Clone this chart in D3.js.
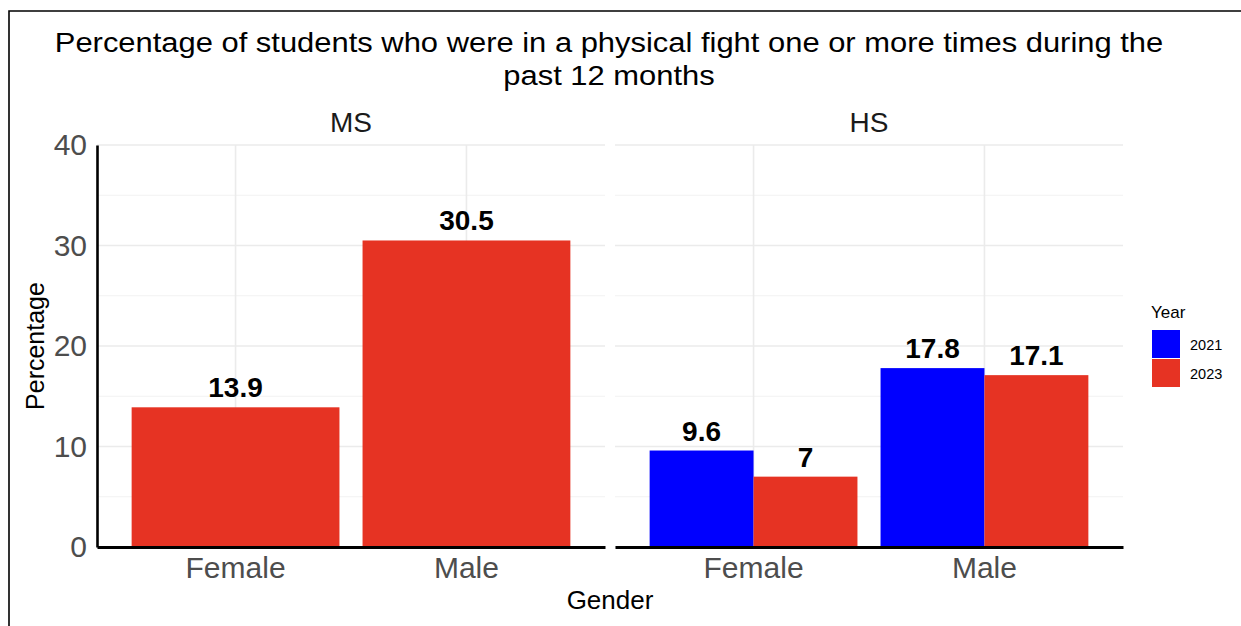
<!DOCTYPE html>
<html>
<head>
<meta charset="utf-8">
<script src="https://cdn.jsdelivr.net/npm/d3@7"></script>
<style>
  html, body { margin: 0; background: #fff; overflow: hidden; }
  svg { display: block; font-family: "Liberation Sans", Arial, Helvetica, sans-serif; }
</style>
</head>
<body>
<svg id="chart" width="1241" height="626"></svg>
<script>
"use strict";
// data
var facetNames = ["MS", "HS"];
var genderNames = ["Female", "Male"];
var yearNames = ["2021", "2023"];
var yearColors = ["#0000ff", "#e63323"];
var ms2023 = [13.9, 30.5];
var hs2021 = [9.6, 17.8];
var hs2023 = [7, 17.1];
var majorTicks = [0, 10, 20, 30, 40];
var minorTicks = [5, 15, 25, 35];

// rows: one per bar
var rows = [];
genderNames.forEach(function (g, i) {
    rows.push({ facet: "MS", gender: g, year: "2023", value: ms2023[i] });
    rows.push({ facet: "HS", gender: g, year: "2021", value: hs2021[i] });
    rows.push({ facet: "HS", gender: g, year: "2023", value: hs2023[i] });
});

var svg = d3.select("#chart");

// outer frame (only left and top edges show)
svg.append("path")
    .attr("d", "M9,640V11H1260")
    .attr("fill", "none")
    .attr("stroke", "#000")
    .attr("stroke-width", 1.6);

var panelTop = 145, panelBottom = 547;
var y = d3.scaleLinear().domain([0, 40]).range([panelBottom, panelTop]);
var color = d3.scaleOrdinal().domain(yearNames).range(yearColors);

var panels = [
    { name: facetNames[0], x0: 97, x1: 605 },
    { name: facetNames[1], x0: 615, x1: 1123 }
];

panels.forEach(function (p, pi) {
    var x = d3.scaleBand().domain(genderNames).range([p.x0, p.x1])
        .paddingInner(0.1).paddingOuter(0.15);
    var g = svg.append("g");

    // minor grid
    g.selectAll(".minor").data(minorTicks).enter().append("line")
        .attr("x1", p.x0).attr("x2", p.x1)
        .attr("y1", function (d) { return y(d); })
        .attr("y2", function (d) { return y(d); })
        .style("stroke", "#f2f2f2").style("stroke-width", 1.2);
    // major grid
    g.selectAll(".major").data(majorTicks).enter().append("line")
        .attr("x1", p.x0).attr("x2", p.x1)
        .attr("y1", function (d) { return y(d); })
        .attr("y2", function (d) { return y(d); })
        .style("stroke", "#ebebeb").style("stroke-width", 1.6);
    g.selectAll(".vgrid").data(genderNames).enter().append("line")
        .attr("x1", function (d) { return x(d) + x.bandwidth() / 2; })
        .attr("x2", function (d) { return x(d) + x.bandwidth() / 2; })
        .attr("y1", panelTop).attr("y2", panelBottom)
        .style("stroke", "#ebebeb").style("stroke-width", 1.6);

    // bars
    var data = rows.filter(function (r) { return r.facet === p.name; });
    genderNames.forEach(function (gn) {
        var sub = data.filter(function (r) { return r.gender === gn; });
        var inner = d3.scaleBand()
            .domain(sub.map(function (r) { return r.year; }))
            .range([x(gn), x(gn) + x.bandwidth()]);
        g.selectAll(null).data(sub).enter().append("rect")
            .attr("x", function (d) { return inner(d.year); })
            .attr("y", function (d) { return y(d.value); })
            .attr("width", inner.bandwidth())
            .attr("height", function (d) { return y(0) - y(d.value); })
            .attr("fill", function (d) { return color(d.year); });
        g.selectAll(null).data(sub).enter().append("text")
            .attr("x", function (d) { return inner(d.year) + inner.bandwidth() / 2; })
            .attr("y", function (d) { return y(d.value) - 10; })
            .attr("text-anchor", "middle")
            .style("font-size", "28px").style("font-weight", "bold")
            .style("fill", "#000")
            .text(function (d) { return d.value; });
    });

    // x axis
    var xAxis = g.append("g")
        .attr("transform", "translate(0," + panelBottom + ")")
        .call(d3.axisBottom(x).tickSize(0).tickSizeOuter(0).tickPadding(10));
    xAxis.select(".domain").style("stroke", "#000").style("stroke-width", 3);
    xAxis.selectAll("text").style("font-size", "30px").style("fill", "#4d4d4d")
        .style("font-family", "Liberation Sans, Arial, sans-serif");

    // strip label
    g.append("text")
        .attr("x", (p.x0 + p.x1) / 2).attr("y", 132)
        .attr("text-anchor", "middle")
        .style("font-size", "28px").style("fill", "#1a1a1a")
        .text(p.name);

    if (pi === 0) {
        var yAxis = g.append("g")
            .attr("transform", "translate(" + p.x0 + ",0)")
            .call(d3.axisLeft(y).tickValues(majorTicks).tickSize(0).tickSizeOuter(0).tickPadding(10));
        yAxis.select(".domain").style("stroke", "#000").style("stroke-width", 2.6);
        yAxis.selectAll("text").style("font-size", "30px").style("fill", "#4d4d4d")
            .style("font-family", "Liberation Sans, Arial, sans-serif");
    }
});

// titles (reference font runs wider than Arial, so stretch a little)
var titleLines = ["Percentage of students who were in a physical fight one or more times during the",
    "past 12 months"];
svg.selectAll(".title").data(titleLines).enter().append("text")
    .attr("transform", function (d, i) { return "translate(609," + (52 + i * 33) + ") scale(1.125,1)"; })
    .attr("text-anchor", "middle")
    .style("font-size", "27.5px").style("fill", "#000")
    .text(function (d) { return d; });

svg.append("text")
    .attr("transform", "translate(44," + (panelTop + panelBottom) / 2 + ") rotate(-90)")
    .attr("text-anchor", "middle")
    .style("font-size", "25px").style("fill", "#000")
    .text("Percentage");

svg.append("text")
    .attr("x", 610).attr("y", 609)
    .attr("text-anchor", "middle")
    .style("font-size", "26px").style("fill", "#000")
    .text("Gender");

// legend
var legend = svg.append("g");
legend.append("text")
    .attr("x", 1151).attr("y", 318)
    .style("font-size", "17px").style("fill", "#000")
    .text("Year");
legend.selectAll("rect").data(yearNames).enter().append("rect")
    .attr("x", 1152)
    .attr("y", function (d, i) { return 330 + i * 29; })
    .attr("width", 28).attr("height", 28)
    .attr("fill", function (d) { return color(d); });
legend.selectAll(".lab").data(yearNames).enter().append("text")
    .attr("x", 1190)
    .attr("y", function (d, i) { return 350 + i * 29; })
    .style("font-size", "14.5px").style("fill", "#000")
    .text(function (d) { return d; });
</script>
</body>
</html>
